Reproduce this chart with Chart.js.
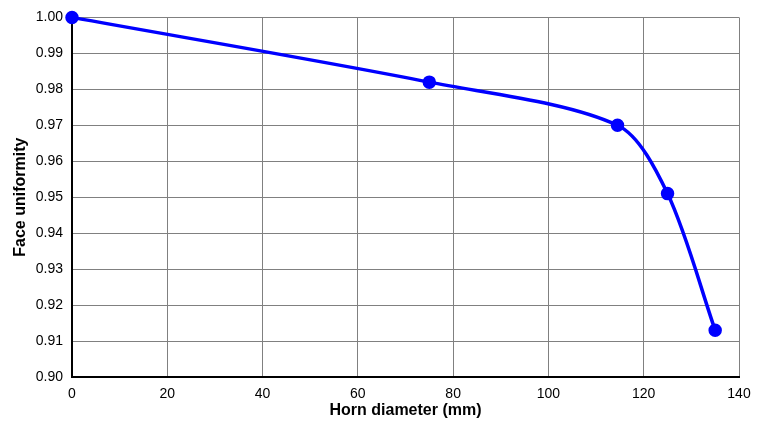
<!DOCTYPE html>
<html>
<head>
<meta charset="utf-8">
<script src="https://cdn.jsdelivr.net/npm/chart.js@4"></script>
<style>
  html, body { margin: 0; padding: 0; background: #fff; }
  #wrap { width: 768px; height: 432px; }
</style>
</head>
<body>
<div id="wrap"><canvas id="uniformityChart"></canvas></div>
<script>
const diameter = [0, 75, 114.5, 125, 135];
const uniformity = [1.0, 0.982, 0.970, 0.951, 0.913];

const points = diameter.map((d, i) => ({ x: d, y: uniformity[i] }));

const ctx = document.getElementById("uniformityChart").getContext("2d");
const chart = new Chart(ctx, {
  type: "line",
  data: {
    datasets: [
      {
        data: points,
        borderColor: "#0000ff",
        backgroundColor: "#0000ff",
        borderWidth: 3.5,
        pointRadius: 5,
        pointHoverRadius: 5,
        tension: 0.3,
        clip: false,
      },
    ],
  },
  options: {
    responsive: true,
    maintainAspectRatio: false,
    animation: false,
    layout: { padding: { left: 0, right: 29, top: 17, bottom: 0 } },
    plugins: { legend: { display: false }, tooltip: { enabled: false } },
    scales: {
      x: {
        type: "linear",
        min: 0,
        max: 140,
        ticks: {
          stepSize: 20,
          color: "#000",
          padding: 9,
          font: { family: "Liberation Sans", size: 14 },
        },
        grid: { color: "#808080", drawTicks: false },
        border: { color: "#000", width: 2 },
        title: {
          display: true,
          text: "Horn diameter (mm)",
          color: "#000",
          font: { family: "Liberation Sans", size: 16, weight: "bold" },
          padding: { top: 0, bottom: 12 },
        },
        afterFit: (scale) => { scale.height = 55; },
      },
      y: {
        min: 0.9,
        max: 1.0,
        ticks: {
          stepSize: 0.01,
          color: "#000",
          padding: 9,
          font: { family: "Liberation Sans", size: 14 },
          callback: (v) => v.toFixed(2),
        },
        grid: { color: "#808080", drawTicks: false },
        border: { color: "#000", width: 2 },
        title: {
          display: true,
          text: "Face uniformity",
          color: "#000",
          font: { family: "Liberation Sans", size: 16, weight: "bold" },
          padding: { top: 11, bottom: 0 },
        },
        afterFit: (scale) => { scale.width = 72; },
      },
    },
  },
});
</script>
</body>
</html>
